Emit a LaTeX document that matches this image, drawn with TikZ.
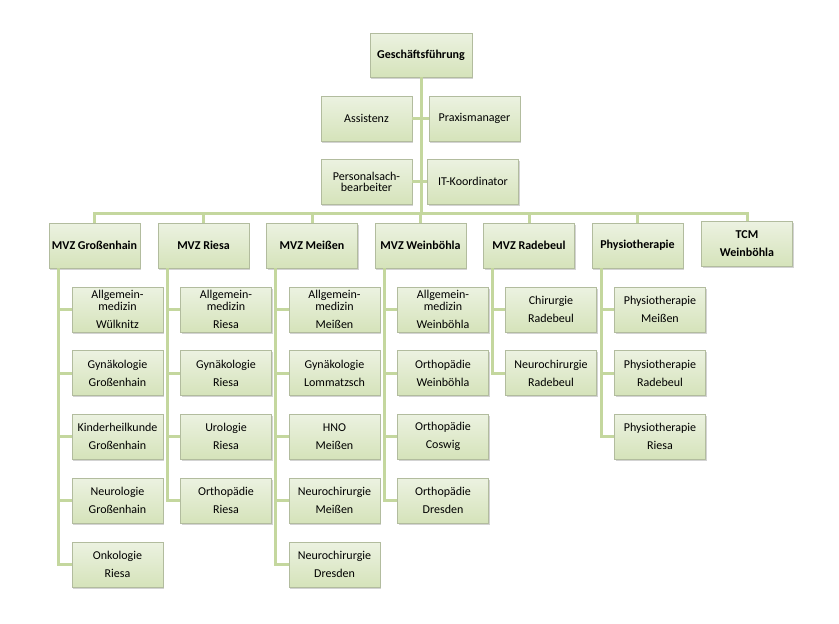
\documentclass[tikz,border=0pt]{standalone}
\usepackage{fontspec}
\setmainfont{Carlito}
\usetikzlibrary{shadows}
\definecolor{boxtop}{RGB}{236,242,225}
\definecolor{boxbot}{RGB}{213,227,186}
\definecolor{boxline}{RGB}{178,188,158}
\definecolor{connline}{RGB}{196,215,158}
\tikzset{
  unit/.style={draw=boxline, line width=0.6pt, top color=boxtop, bottom color=boxbot,
    minimum width=91pt, minimum height=45pt, inner sep=1pt, align=center,
    font=\fontsize{12}{18}\selectfont,
    drop shadow={shadow xshift=1.4pt, shadow yshift=-1.6pt, opacity=0.35}},
  head/.style={unit, font=\bfseries\fontsize{12}{18}\selectfont},
  conn/.style={connline, line width=3pt}
}
\begin{document}
\begin{tikzpicture}[x=1pt, y=-1pt]
\useasboundingbox (0,0) rectangle (839,624);
\node[head, minimum width=102pt, minimum height=44pt] (gf) at (421, 55){Geschäftsführung};
\node[unit] (as) at (366.5, 118.5){Assistenz};
\node[unit] (pm) at (474.5, 118.5){Praxismanager};
\node[unit] (pb) at (366.5, 181.5){Personalsach-\\[-7pt]bearbeiter};
\node[unit] (it) at (473, 181.5){IT-Koordinator};
\coordinate (bus) at (421, 213);
\node[head] (gh) at (94.5, 245.5){MVZ Großenhain};
\node[head] (ri) at (203.5, 245.5){MVZ Riesa};
\node[head] (me) at (312, 245.5){MVZ Meißen};
\node[head] (wb) at (420.5, 245.5){MVZ Weinböhla};
\node[head] (rb) at (529, 245.5){MVZ Radebeul};
\node[head] (ph) at (637.5, 245.5){Physiotherapie};
\node[head] (tcm) at (747, 244){TCM\\Weinböhla};
\node[unit] (gh1) at (117.5, 309.5){Allgemein-\\[-6pt]medizin\\Wülknitz};
\node[unit] (gh2) at (117.5, 373){Gynäkologie\\Großenhain};
\node[unit] (gh3) at (117.5, 436.5){Kinderheilkunde\\Großenhain};
\node[unit] (gh4) at (117.5, 500.5){Neurologie\\Großenhain};
\node[unit] (gh5) at (117.5, 564.5){Onkologie\\Riesa};
\node[unit] (ri1) at (226, 309.5){Allgemein-\\[-6pt]medizin\\Riesa};
\node[unit] (ri2) at (226, 373){Gynäkologie\\Riesa};
\node[unit] (ri3) at (226, 436.5){Urologie\\Riesa};
\node[unit] (ri4) at (226, 500.5){Orthopädie\\Riesa};
\node[unit] (me1) at (334.5, 309.5){Allgemein-\\[-6pt]medizin\\Meißen};
\node[unit] (me2) at (334.5, 373){Gynäkologie\\Lommatzsch};
\node[unit] (me3) at (334.5, 436.5){HNO\\Meißen};
\node[unit] (me4) at (334.5, 500.5){Neurochirurgie\\Meißen};
\node[unit] (me5) at (334.5, 564.5){Neurochirurgie\\Dresden};
\node[unit] (wb1) at (443, 309.5){Allgemein-\\[-6pt]medizin\\Weinböhla};
\node[unit] (wb2) at (443, 373){Orthopädie\\Weinböhla};
\node[unit] (wb3) at (443, 436.5){Orthopädie\\Coswig};
\node[unit] (wb4) at (443, 500.5){Orthopädie\\Dresden};
\node[unit] (rb1) at (551, 309.5){Chirurgie\\Radebeul};
\node[unit] (rb2) at (551, 373){Neurochirurgie\\Radebeul};
\node[unit] (ph1) at (660, 309.5){Physiotherapie\\Meißen};
\node[unit] (ph2) at (660, 373){Physiotherapie\\Radebeul};
\node[unit] (ph3) at (660, 436.5){Physiotherapie\\Riesa};
\draw[conn] (gf.south) -- (bus);
\draw[conn] (as.east) -- (as.east -| gf.south);
\draw[conn] (pm.west) -- (pm.west -| gf.south);
\draw[conn] (pb.east) -- (pb.east -| gf.south);
\draw[conn] (it.west) -- (it.west -| gf.south);
\draw[conn] (gh.north) -- (gh.north |- bus) -- (tcm.north |- bus) -- (tcm.north);
\draw[conn] (ri.north) -- (ri.north |- bus);
\draw[conn] (me.north) -- (me.north |- bus);
\draw[conn] (wb.north) -- (wb.north |- bus);
\draw[conn] (rb.north) -- (rb.north |- bus);
\draw[conn] (ph.north) -- (ph.north |- bus);
\draw[conn] ([xshift=9.5pt]gh.south west) |- (gh1.west);
\draw[conn] ([xshift=9.5pt]gh.south west) |- (gh2.west);
\draw[conn] ([xshift=9.5pt]gh.south west) |- (gh3.west);
\draw[conn] ([xshift=9.5pt]gh.south west) |- (gh4.west);
\draw[conn] ([xshift=9.5pt]gh.south west) |- (gh5.west);
\draw[conn] ([xshift=9.5pt]ri.south west) |- (ri1.west);
\draw[conn] ([xshift=9.5pt]ri.south west) |- (ri2.west);
\draw[conn] ([xshift=9.5pt]ri.south west) |- (ri3.west);
\draw[conn] ([xshift=9.5pt]ri.south west) |- (ri4.west);
\draw[conn] ([xshift=9.5pt]me.south west) |- (me1.west);
\draw[conn] ([xshift=9.5pt]me.south west) |- (me2.west);
\draw[conn] ([xshift=9.5pt]me.south west) |- (me3.west);
\draw[conn] ([xshift=9.5pt]me.south west) |- (me4.west);
\draw[conn] ([xshift=9.5pt]me.south west) |- (me5.west);
\draw[conn] ([xshift=9.5pt]wb.south west) |- (wb1.west);
\draw[conn] ([xshift=9.5pt]wb.south west) |- (wb2.west);
\draw[conn] ([xshift=9.5pt]wb.south west) |- (wb3.west);
\draw[conn] ([xshift=9.5pt]wb.south west) |- (wb4.west);
\draw[conn] ([xshift=9.5pt]rb.south west) |- (rb1.west);
\draw[conn] ([xshift=9.5pt]rb.south west) |- (rb2.west);
\draw[conn] ([xshift=9.5pt]ph.south west) |- (ph1.west);
\draw[conn] ([xshift=9.5pt]ph.south west) |- (ph2.west);
\draw[conn] ([xshift=9.5pt]ph.south west) |- (ph3.west);
\end{tikzpicture}
\end{document}
